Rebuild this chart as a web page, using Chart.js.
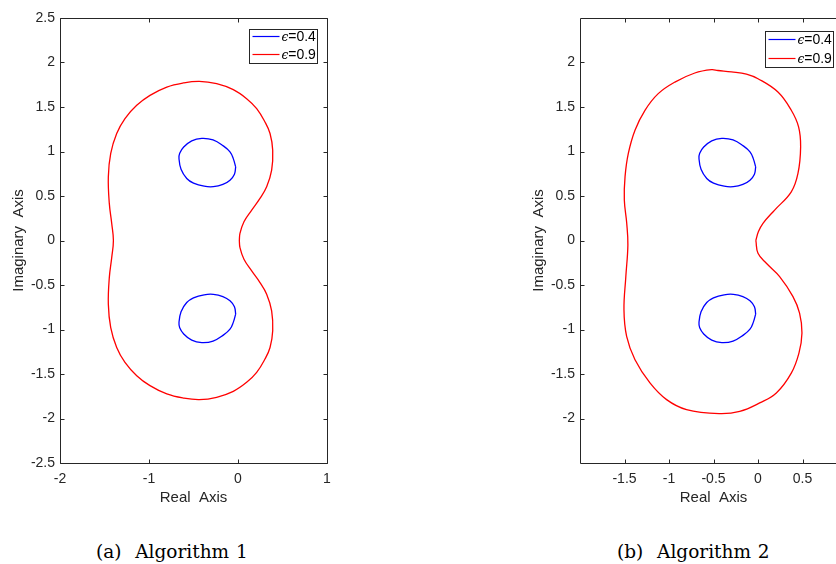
<!DOCTYPE html>
<html>
<head>
<meta charset="utf-8">
<script src="https://cdn.jsdelivr.net/npm/chart.js@4.4.1/dist/chart.umd.min.js"></script>
<style>
html, body { margin:0; padding:0; width:836px; height:564px; overflow:hidden; background:#fff; }
#c1 { position:absolute; left:0; top:0; }
#c2 { position:absolute; left:520px; top:0; }
.cap { position:absolute; top:543px; font:18.5px/18px "DejaVu Serif", serif; color:#000; white-space:pre; word-spacing:1px; }
</style>
</head>
<body>
<canvas id="c1" width="340" height="520"></canvas>
<canvas id="c2" width="340" height="520"></canvas>
<div class="cap" style="left:96px">(a)  Algorithm 1</div>
<div class="cap" style="left:617px">(b)  Algorithm 2</div>
<script>
/* two pseudospectra panels — eps 0.4 (blue) and eps 0.9 (red) */

const SERIES = ['\u03f5=0.4', '\u03f5=0.9'];

// eps = 0.4, upper and lower loops (same in both panels)
const BLUE_UP_X = [-0.026, -0.053, -0.09, -0.165, -0.28, -0.407, -0.52, -0.61, -0.655, -0.663, -0.64, -0.576, -0.5, -0.38, -0.277, -0.17, -0.09, -0.04, -0.026];
const BLUE_UP_Y = [0.827, 0.92, 0.996, 1.063, 1.13, 1.147, 1.12, 1.05, 0.98, 0.92, 0.8, 0.697, 0.645, 0.61, 0.605, 0.63, 0.678, 0.745, 0.827];
const BLUE_LO_X = [-0.026, -0.053, -0.09, -0.165, -0.28, -0.407, -0.52, -0.61, -0.655, -0.663, -0.64, -0.576, -0.5, -0.38, -0.277, -0.17, -0.09, -0.04, -0.026];
const BLUE_LO_Y = [-0.827, -0.92, -0.996, -1.063, -1.13, -1.147, -1.12, -1.05, -0.98, -0.92, -0.8, -0.697, -0.645, -0.61, -0.605, -0.63, -0.678, -0.745, -0.827];

// eps = 0.9, Algorithm 1
const RED1_X = [0.015, 0.022, 0.067, 0.154, 0.247, 0.322, 0.378, 0.39, 0.36, 0.303, 0.21, 0.097, -0.053, -0.24, -0.435, -0.615, -0.80, -0.989, -1.138, -1.27, -1.363, -1.43, -1.457, -1.446, -1.419, -1.40,
                -1.419, -1.446, -1.457, -1.43, -1.363, -1.27, -1.138, -0.989, -0.80, -0.615, -0.435, -0.24, -0.053, 0.097, 0.21, 0.303, 0.36, 0.39, 0.378, 0.322, 0.247, 0.154, 0.067, 0.022, 0.015];
const RED1_Y = [0, 0.08, 0.211, 0.342, 0.473, 0.603, 0.79, 1.015, 1.202, 1.332, 1.482, 1.594, 1.695, 1.762, 1.788, 1.77, 1.724, 1.631, 1.519, 1.37, 1.202, 0.978, 0.715, 0.417, 0.193, 0,
                -0.193, -0.417, -0.715, -0.978, -1.202, -1.37, -1.519, -1.631, -1.724, -1.77, -1.788, -1.762, -1.695, -1.594, -1.482, -1.332, -1.202, -1.015, -0.79, -0.603, -0.473, -0.342, -0.211, -0.08, 0];

// eps = 0.9, Algorithm 2
const RED2_X = [-0.024, 0.005, 0.056, 0.187, 0.374, 0.449, 0.479, 0.456, 0.374, 0.224, 0, -0.13, -0.298, -0.45, -0.522, -0.71, -0.934, -1.121, -1.27, -1.382, -1.457, -1.494, -1.502, -1.475,
                -1.462, -1.485, -1.506, -1.476, -1.382, -1.214, -1.027, -0.803, -0.437, -0.205, 0.019, 0.206, 0.374, 0.46, 0.494, 0.467, 0.393, 0.243, 0.094, 0, -0.024];
const RED2_Y = [0, 0.1, 0.193, 0.342, 0.547, 0.753, 1.052, 1.276, 1.463, 1.668, 1.818, 1.87, 1.895, 1.91, 1.919, 1.882, 1.78, 1.65, 1.463, 1.239, 0.978, 0.715, 0.454, 0.193,
                -0.05, -0.405, -0.779, -1.078, -1.34, -1.60, -1.788, -1.90, -1.945, -1.92, -1.825, -1.713, -1.49, -1.265, -1.04, -0.816, -0.63, -0.405, -0.256, -0.144, 0];

// axis ticks
const X1_TICKS = [-2, -1, 0, 1];
const X1_LABELS = ['-2', '-1', '0', '1'];
const Y1_TICKS = [-2.5, -2, -1.5, -1, -0.5, 0, 0.5, 1, 1.5, 2, 2.5];
const Y1_LABELS = ['-2.5', '-2', '-1.5', '-1', '-0.5', '0', '0.5', '1', '1.5', '2', '2.5'];
const X2_TICKS = [-1.5, -1, -0.5, 0, 0.5];
const X2_LABELS = ['-1.5', '-1', '-0.5', '0', '0.5'];
const Y2_TICKS = [-2, -1.5, -1, -0.5, 0, 0.5, 1, 1.5, 2];
const Y2_LABELS = ['-2', '-1.5', '-1', '-0.5', '0', '0.5', '1', '1.5', '2'];

const INK = '#262626';
const SANS = '"Liberation Sans", Arial, sans-serif';

const pts = (xs, ys) => xs.map((x, i) => ({ x, y: ys[i] }));

function curve(label, xs, ys, color) {
  return {
    label, data: pts(xs, ys), showLine: true, borderColor: color, backgroundColor: color,
    borderWidth: 1.3, pointRadius: 0, tension: 0.4, fill: false,
  };
}

// ── box, inward ticks and legend, MATLAB style ────────────────
const matFrame = {
  id: 'matFrame',
  afterDatasetsDraw(chart, args, opts) {
    const { ctx, chartArea: a, scales: { x, y } } = chart;
    const L = Math.round(a.left) + 0.5, R = Math.round(a.right) + 0.5;
    const T = Math.round(a.top) + 0.5, B = Math.round(a.bottom) + 0.5;
    ctx.save();
    ctx.strokeStyle = INK;
    ctx.lineWidth = 1;
    ctx.beginPath();
    ctx.rect(L, T, R - L, B - T);
    x.ticks.forEach(t => {
      const p = Math.round(x.getPixelForValue(t.value)) + 0.5;
      ctx.moveTo(p, B); ctx.lineTo(p, B - 4);
      ctx.moveTo(p, T); ctx.lineTo(p, T + 4);
    });
    y.ticks.forEach(t => {
      const p = Math.round(y.getPixelForValue(t.value)) + 0.5;
      ctx.moveTo(L, p); ctx.lineTo(L + 4, p);
      ctx.moveTo(R, p); ctx.lineTo(R - 4, p);
    });
    ctx.stroke();

    // legend box
    const lx = opts.left + 0.5, ly = opts.top + 0.5;
    ctx.fillStyle = '#fff';
    ctx.fillRect(lx, ly, opts.width, opts.height);
    ctx.strokeRect(lx, ly, opts.width, opts.height);
    const seen = [];
    chart.data.datasets.forEach(ds => {
      if (seen.includes(ds.label)) return;
      seen.push(ds.label);
      const i = seen.length - 1;
      const cy = Math.round(opts.top + opts.row0 + i * opts.rowGap) + 0.5;
      ctx.strokeStyle = ds.borderColor;
      ctx.lineWidth = 1.2;
      ctx.beginPath();
      ctx.moveTo(lx + 3, cy); ctx.lineTo(lx + 30, cy);
      ctx.stroke();
      ctx.fillStyle = '#000';
      ctx.textBaseline = 'middle';
      ctx.textAlign = 'left';
      ctx.font = 'italic 12px "DejaVu Serif", serif';
      const sym = ds.label.charAt(0);
      ctx.fillText(sym, lx + 32, cy + 1);
      const w = ctx.measureText(sym).width;
      ctx.font = '14px ' + SANS;
      ctx.fillText(ds.label.slice(1), lx + 32 + w, cy + 1);
    });
    ctx.restore();
  }
};

function panel(id, red, xMin, xMax, xt, xl, yt, yl, legend) {
  new Chart(document.getElementById(id), {
    type: 'scatter',
    data: {
      datasets: [
        curve(SERIES[0], BLUE_UP_X, BLUE_UP_Y, '#0000ff'),
        curve(SERIES[0], BLUE_LO_X, BLUE_LO_Y, '#0000ff'),
        curve(SERIES[1], red[0], red[1], '#ff0000'),
      ],
    },
    options: {
      responsive: false,
      animation: false,
      layout: { padding: { top: 18, right: 13, left: 0, bottom: 0 } },
      plugins: {
        legend: { display: false },
        tooltip: { enabled: false },
        matFrame: legend,
      },
      scales: {
        x: {
          type: 'linear', min: xMin, max: xMax,
          afterBuildTicks: s => { s.ticks = xt.map(v => ({ value: v })); },
          afterFit: s => { s.height = 57; },
          grid: { display: false, drawTicks: false },
          border: { display: false },
          ticks: {
            padding: 8, color: INK, maxRotation: 0, autoSkip: false,
            font: { family: SANS, size: 14 },
            callback: (v, i) => xl[i],
          },
          title: {
            display: true, text: 'Real  Axis', color: INK,
            font: { family: SANS, size: 15 }, padding: { top: 0, bottom: 13 },
          },
        },
        y: {
          type: 'linear', min: -2.5, max: 2.5,
          afterBuildTicks: s => { s.ticks = yt.map(v => ({ value: v })); },
          afterFit: s => { s.width = 60; },
          grid: { display: false, drawTicks: false },
          border: { display: false },
          ticks: {
            padding: 5, color: INK, autoSkip: false,
            font: { family: SANS, size: 14 },
            callback: (v, i) => yl[i],
          },
          title: {
            display: true, text: 'Imaginary  Axis', color: INK,
            font: { family: SANS, size: 15 }, padding: { top: 10, bottom: 0 },
          },
        },
      },
    },
    plugins: [matFrame],
  });
}

panel('c1', [RED1_X, RED1_Y], -2, 1, X1_TICKS, X1_LABELS, Y1_TICKS, Y1_LABELS,
  { left: 249, top: 29, width: 68, height: 34, row0: 7, rowGap: 18 });
panel('c2', [RED2_X, RED2_Y], -2, 1, X2_TICKS, X2_LABELS, Y2_TICKS, Y2_LABELS,
  { left: 245, top: 31, width: 68, height: 36, row0: 8, rowGap: 18.5 });
</script>
</body>
</html>
